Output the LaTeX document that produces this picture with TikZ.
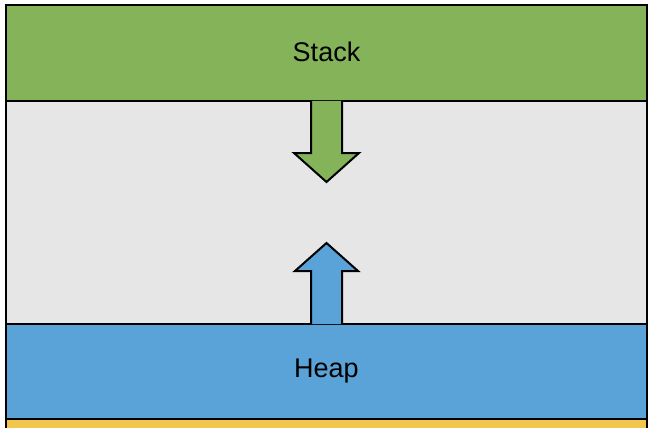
\documentclass[tikz,border=0pt]{standalone}
\usepackage{fontspec}
\setmainfont{Liberation Sans}
\definecolor{stackgreen}{HTML}{84B35A}
\definecolor{heapblue}{HTML}{5AA3D8}
\definecolor{freegray}{HTML}{E6E6E6}
\definecolor{datayellow}{HTML}{F2C64C}
\begin{document}
\begin{tikzpicture}[x=1pt,y=-1pt,
  region/.style={draw=black,line width=2pt},
  arrowshape/.style={draw=black,line width=2pt,line join=miter},
  label/.style={font=\fontsize{27}{31}\selectfont,text=black}]
\useasboundingbox (0,0) rectangle (654,428);
\clip (0,0) rectangle (654,428);
\fill[white] (0,0) rectangle (654,428);
% memory regions, top to bottom
\path[region,fill=datayellow] (6,419) rectangle (647,460);
\path[region,fill=freegray] (6,101) rectangle (647,324);
\path[region,fill=stackgreen] (6,5) rectangle (647,101);
\path[region,fill=heapblue] (6,324) rectangle (647,419);
\node[label] (stack) at (326.5,52) {Stack};
\node[label] (heap) at (326.5,371.5) {Heap};
% stack grows down
\path[arrowshape,fill=stackgreen]
  (311,101) -- (311,153) -- (294,153) -- (326.5,182) -- (359,153)
  -- (342,153) -- (342,101);
% heap grows up
\path[arrowshape,fill=heapblue]
  (311,324) -- (311,271) -- (295,271) -- (326.5,243) -- (358,271)
  -- (342,271) -- (342,324);
\end{tikzpicture}
\end{document}
